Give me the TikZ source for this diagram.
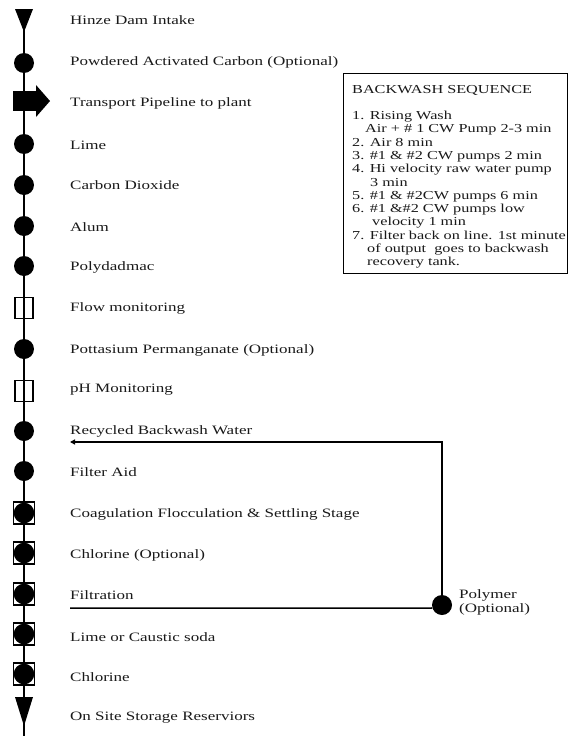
\documentclass[tikz,border=0pt]{standalone}
\usepackage{fontspec}
\setmainfont[FakeStretch=1.33]{Liberation Serif}
\usetikzlibrary{arrows.meta}
\tikzset{
  lbl/.style={anchor=west, inner sep=0pt, font=\fontsize{12.8}{14}\selectfont, text=black!90},
  dot/.style={circle, fill=black, minimum size=20pt, inner sep=0pt},
  opensq/.style={rectangle, draw=black, line width=1.2pt, minimum width=18pt, minimum height=21pt, inner sep=0pt},
  sqdot/.style={rectangle, draw=black, line width=1.2pt, fill=white, minimum width=21pt, minimum height=22pt, inner sep=0pt},
  spine/.style={line width=1.5pt},
  conn/.style={line width=1.5pt},
}
\begin{document}
\begin{tikzpicture}[x=1pt,y=-1pt]
\useasboundingbox (0,0) rectangle (570,736);
% spine
\coordinate (top) at (24,10);
\coordinate (bot) at (24,736);
\draw[spine] (top) -- (bot);
% symbols
\fill[black] (15,9) -- (33,9) -- (24,32) -- cycle;
\node[dot] (s1) at (24,63) {};
\fill[black] (13,91) rectangle (37,111);
\fill[black] (36,85) -- (50,101) -- (36,117) -- cycle;
\node[dot] (s3) at (24,144) {};
\node[dot] (s4) at (24,185) {};
\node[dot] (s5) at (24,226) {};
\node[dot] (s6) at (24,266) {};
\node[opensq] (s7) at (24,308) {};
\node[dot] (s8) at (24,349) {};
\node[opensq] (s9) at (24,391) {};
\node[dot] (s10) at (24,431) {};
\node[dot] (s11) at (24,471) {};
\foreach \n/\yy in {s12/513, s13/553, s14/594, s15/634, s16/674}{
  \node[sqdot] (\n) at (24,\yy) {};
  \fill[black] (\n.center) circle (10.3pt);
}
\fill[black] (15,697) -- (33,697) -- (24,726) -- cycle;
% labels
\node[lbl] (t0) at (70,20) {Hinze Dam Intake};
\node[lbl] (t1) at (70,62) {Powdered Activated Carbon (Optional)};
\node[lbl] (t2) at (70,103) {Transport Pipeline to plant};
\node[lbl] (t3) at (70,145) {Lime};
\node[lbl] (t4) at (70,185) {Carbon Dioxide};
\node[lbl] (t5) at (70,227) {Alum};
\node[lbl] (t6) at (70,267) {Polydadmac};
\node[lbl] (t7) at (70,308) {Flow monitoring};
\node[lbl] (t8) at (70,350) {Pottasium Permanganate (Optional)};
\node[lbl] (t9) at (70,390) {pH Monitoring};
\node[lbl] (t10) at (70,431) {Recycled Backwash Water};
\node[lbl] (t11) at (70,472) {Filter Aid};
\node[lbl] (t12) at (70,514) {Coagulation Flocculation \& Settling Stage};
\node[lbl] (t13) at (70,555) {Chlorine (Optional)};
\node[lbl] (t14) at (70,595) {Filtration};
\node[lbl] (t15) at (70,637) {Lime or Caustic soda};
\node[lbl] (t16) at (70,677) {Chlorine};
\node[lbl] (t17) at (70,718) {On Site Storage Reserviors};
% polymer loop
\coordinate (fstart) at (70,608);
\coordinate (rend) at (70,442);
\node[dot] (poly) at (442,605) {};
\draw[conn] (fstart) -- (poly.west |- fstart) -- (poly);
\draw[conn, -{Triangle[length=5pt,width=5pt]}] (poly.center) -- (442,442) -- (rend);
\node[lbl, align=left, anchor=north west] (pl) at (459,589) {Polymer\\(Optional)};
% backwash box
\node[draw=black, line width=1.3pt, minimum width=224pt, minimum height=200pt, anchor=north west, inner sep=0pt] (bw) at (343,73) {};
\node[anchor=north west, inner sep=0pt, align=left, font=\fontsize{12.2}{13.3}\selectfont, text=black!90] (bwt) at (352,85)
{BACKWASH SEQUENCE\\[13pt]
1. Rising Wash\\
\hspace*{13pt}Air + \# 1 CW Pump 2-3 min\\
2. Air 8 min\\
3. \#1 \& \#2 CW pumps 2 min\\
4. Hi velocity raw water pump\\
\hspace*{18pt}3 min\\
5. \#1 \& \#2CW pumps 6 min\\
6. \#1 \&\#2 CW pumps low\\
\hspace*{20pt}velocity 1 min\\
7. Filter back on line. 1st minute\\
\hspace*{15pt}of output\ \ goes to backwash\\
\hspace*{15pt}recovery tank.};
\end{tikzpicture}
\end{document}
